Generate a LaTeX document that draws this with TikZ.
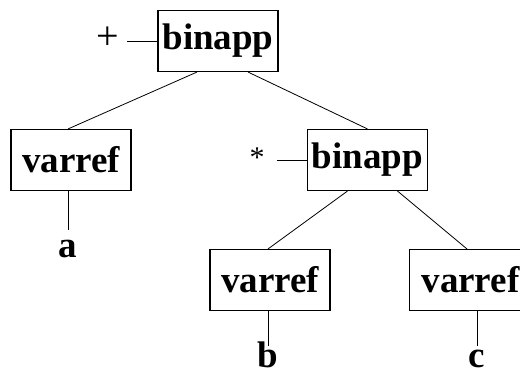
\documentclass[tikz,border=0pt]{standalone}
\usepackage{fontspec}
\setmainfont{Liberation Serif}
\usetikzlibrary{calc}
\begin{document}
\begin{tikzpicture}[x=1pt,y=-1pt,
  ast/.style={draw, line width=1.1pt, minimum width=120pt, minimum height=61pt,
              inner sep=0pt, font=\fontsize{37}{42}\selectfont\bfseries},
  leaf/.style={anchor=base, inner sep=0pt, font=\fontsize{37}{42}\selectfont\bfseries},
  op/.style={inner sep=0pt, font=\fontsize{40}{44}\selectfont},
  link/.style={line width=0.8pt}]
\useasboundingbox (0,0) rectangle (520,375);
\begin{scope}
\clip (0,0) rectangle (520,375);
% operator nodes
\node[ast] (top) at (218,41) {binapp};
\node[ast] (mul) at (367.5,160) {binapp};
% variable references
\node[ast] (va) at (71,160) {varref};
\node[ast] (vb) at (270,280) {varref};
\node[ast, anchor=west, text width=120pt, align=left] (vc) at (409,280) {\hspace*{12pt}varref};
% operator symbols
\node[op] (plus) at (108,38) {+};
\node[op, font=\fontsize{30}{34}\selectfont] (star) at (257,158) {*};
% identifiers
\node[leaf] (a) at (68,257) {a};
\node[leaf] (b) at (268,367) {b};
\node[leaf] (c) at (477,367) {c};
% operator ties
\draw[link] ($(top.west)+(-30,0)$) -- (top.west);
\draw[link] ($(mul.west)+(-30,0)$) -- (mul.west);
% tree edges
\draw[link] ($(top.south)+(-21,0)$) -- ($(va.north)+(-3,0)$);
\draw[link] ($(top.south)+(30,0)$) -- (mul.north);
\draw[link] ($(mul.south)+(-20,0)$) -- ($(vb.north)+(-2,0)$);
\draw[link] ($(mul.south)+(30,0)$) -- ($(vc.north west)+(58,0)$);
% identifier stems
\draw[link] ($(va.south)+(-3,0)$) -- ++(0,39);
\draw[link] ($(vb.south)+(-2,0)$) -- ++(0,35);
\draw[link] ($(vc.south west)+(68,0)$) -- ++(0,35);
\end{scope}
\end{tikzpicture}
\end{document}
